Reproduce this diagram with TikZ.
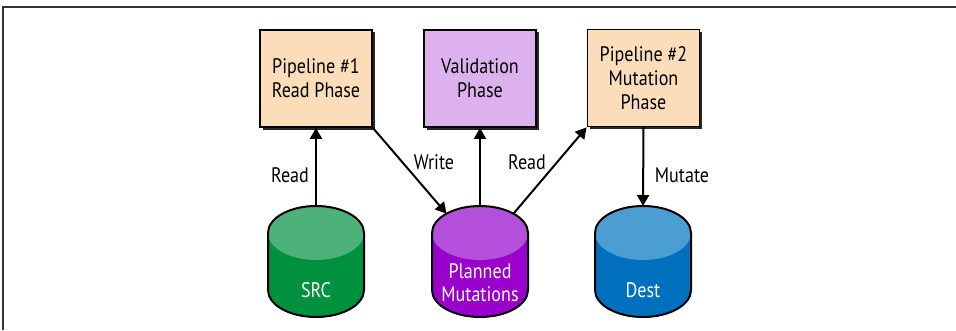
\documentclass[tikz,border=0pt]{standalone}
\usepackage{fontspec}
\setmainfont{PT Sans}[FakeStretch=0.86]
\usetikzlibrary{arrows.meta,shapes.geometric}
\definecolor{peach}{HTML}{FCDDBA}
\definecolor{lilac}{HTML}{DDB0EE}
\definecolor{srcdark}{HTML}{00913F}
\definecolor{srclight}{HTML}{4DB27A}
\definecolor{pmdark}{HTML}{9900CC}
\definecolor{pmlight}{HTML}{B34FDB}
\definecolor{dsdark}{HTML}{0070BF}
\definecolor{dslight}{HTML}{4B9ED2}
\newcommand\drawcyl[4]{%
  \fill[#2] (#1-48,97) -- (#1-48,40) arc[start angle=180,end angle=360,x radius=48,y radius=27] -- (#1+48,97) arc[start angle=0,end angle=180,x radius=48,y radius=27] -- cycle;
  \node[cylcap, fill=#3] (#4) at (#1,97) {};
  \draw[line width=2pt] (#1-48,97) -- (#1-48,40) arc[start angle=180,end angle=360,x radius=48,y radius=27] -- (#1+48,97) arc[start angle=0,end angle=180,x radius=48,y radius=27];
}
\begin{document}
\begin{tikzpicture}[x=1pt,y=1pt,
  box/.style={draw=black, line width=1.8pt, minimum width=112pt, minimum height=97pt, align=center, font=\fontsize{21}{24}\selectfont, inner sep=0pt},
  shad/.style={fill=black!85, minimum width=112pt, minimum height=97pt, inner sep=0pt},
  conn/.style={line width=2pt, -{Triangle[length=11pt,width=12pt]}},
  lbl/.style={font=\fontsize{21}{24}\selectfont},
  cyltxt/.style={text=white, align=center, font=\fontsize{21}{23}\selectfont},
  cylcap/.style={ellipse, minimum width=96pt, minimum height=54pt, inner sep=0pt, outer sep=0pt}
]
\useasboundingbox (0,0) rectangle (956,330);
\draw[line width=2pt, black!80] (3,0) -- (3,323) -- (956,323);

% boxes with shadows
\node[shad] (b1s) at (318.5,249) {};
\node[shad] (b2s) at (482.5,249) {};
\node[shad] (b3s) at (646,249.5) {};
\node[box, fill=peach] (b1) at (316,251.5) {Pipeline \#1\\Read Phase};
\node[box, fill=lilac] (b2) at (480,251.5) {Validation\\Phase};
\node[box, fill=peach] (b3) at (643.5,252) {Pipeline \#2\\Mutation\\Phase};

% cylinders
\drawcyl{316}{srcdark}{srclight}{src}
\drawcyl{480}{pmdark}{pmlight}{pm}
\drawcyl{643}{dsdark}{dslight}{dest}
\node[cyltxt] (srct) at (316,40) {SRC};
\node[cyltxt] (pmt) at (480,47) {Planned\\Mutations};
\node[cyltxt] (destt) at (643,40) {Dest};

% connectors
\draw[conn] (src.north) -- (b1.south);
\draw[conn] (b1.south east) -- (pm.150);
\draw[conn] (pm.north) -- (b2.south);
\draw[conn] (pm.30) -- (b3.south west);
\draw[conn] (b3.south) -- (dest.north);

% labels
\node[lbl] (l1) at (290,155) {Read};
\node[lbl] (l2) at (434,168) {Write};
\node[lbl] (l3) at (527,168) {Read};
\node[lbl] (l4) at (682,155) {Mutate};
\end{tikzpicture}
\end{document}
